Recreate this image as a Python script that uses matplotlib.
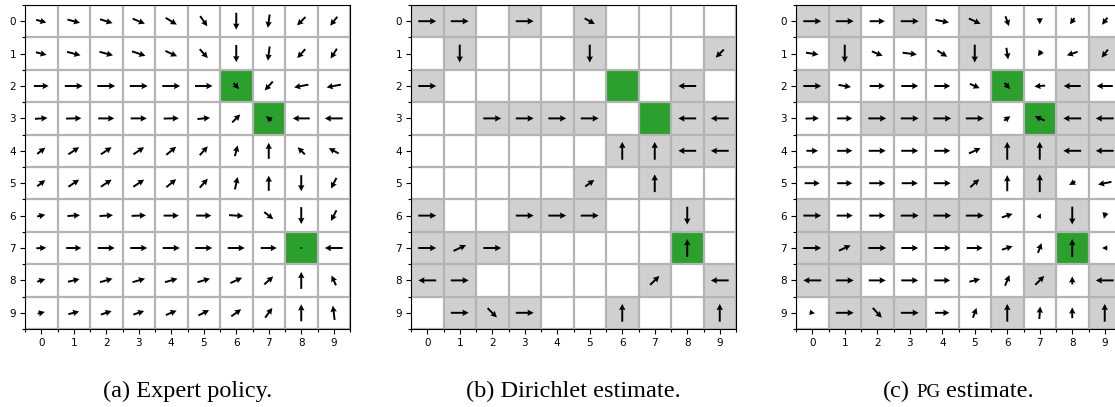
import numpy as np
import matplotlib
matplotlib.use("Agg")
import matplotlib.pyplot as plt
from matplotlib.colors import ListedColormap

# ---------------- data ----------------
labels = list(range(10))
goals = [(2, 6), (3, 7), (7, 8)]

observed = [
    "1101010000",
    "0100010001",
    "1000000010",
    "0011110011",
    "0000001111",
    "0000010100",
    "1001110010",
    "1110000010",
    "1100000101",
    "0111001001",
]

# expert policy: east / north components of mean move
expert_u = [
    [0.57, 0.7, 0.7, 0.68, 0.62, 0.4, 0, -0.1, -0.47, -0.4],
    [0.6, 0.75, 0.75, 0.75, 0.65, 0.45, 0, -0.1, -0.45, -0.35],
    [0.83, 1, 1, 1, 1, 0.98, 0.3, -0.45, -0.8, -0.8],
    [0.7, 0.85, 0.9, 0.9, 0.85, 0.7, 0.45, -0.3, -0.95, -1],
    [0.45, 0.6, 0.6, 0.6, 0.55, 0.45, 0.15, 0, -0.4, -0.55],
    [0.45, 0.6, 0.6, 0.6, 0.55, 0.45, 0.15, 0, 0, -0.3],
    [0.45, 0.7, 0.75, 0.8, 0.85, 0.85, 0.8, 0.5, 0, -0.3],
    [0.55, 0.85, 0.95, 0.95, 0.95, 0.95, 0.95, 0.9, 0.05, -1],
    [0.45, 0.65, 0.7, 0.7, 0.7, 0.7, 0.65, 0.5, 0, -0.25],
    [0.4, 0.6, 0.6, 0.6, 0.6, 0.6, 0.55, 0.4, 0, -0.1],
]
expert_n = [
    [-0.15, -0.18, -0.22, -0.28, -0.38, -0.57, -0.95, -0.75, -0.47, -0.5],
    [-0.15, -0.2, -0.2, -0.25, -0.3, -0.5, -0.97, -0.8, -0.5, -0.55],
    [0, 0, 0, 0, 0, 0, -0.35, -0.5, -0.15, -0.15],
    [0.05, 0.02, 0, 0, 0.02, 0.07, 0.45, 0.25, 0, 0],
    [0.35, 0.4, 0.4, 0.4, 0.45, 0.5, 0.6, 0.9, 0.4, 0.3],
    [0.35, 0.4, 0.4, 0.4, 0.45, 0.5, 0.7, 0.85, -0.9, -0.6],
    [0.1, 0.05, 0.05, 0.03, 0, 0, -0.05, -0.4, -0.95, -0.6],
    [0.03, 0, 0, 0, 0, 0, 0, 0, 0, 0],
    [0.15, 0.15, 0.2, 0.2, 0.2, 0.2, 0.3, 0.45, 0.95, 0.55],
    [0.1, 0.15, 0.2, 0.2, 0.25, 0.3, 0.4, 0.55, 0.95, 0.8],
]

# Dirichlet estimate
dirichlet_u = [
    [1, 1, 0, 1, 0, 0.57, 0, 0, 0, 0],
    [0, 0, 0, 0, 0, 0, 0, 0, 0, -0.45],
    [1, 0, 0, 0, 0, 0, 0, 0, -1, 0],
    [0, 0, 1, 1, 1, 1, 0, 0, -1, -1],
    [0, 0, 0, 0, 0, 0, 0, 0, -1, -1],
    [0, 0, 0, 0, 0, 0.5, 0, 0, 0, 0],
    [1, 0, 0, 1, 1, 1, 0, 0, 0, 0],
    [1, 0.7, 1, 0, 0, 0, 0, 0, 0, 0],
    [-1, 1, 0, 0, 0, 0, 0, 0.52, 0, -1],
    [0, 1, 0.52, 1, 0, 0, 0, 0, 0, 0],
]
dirichlet_n = [
    [0, 0, 0, 0, 0, -0.32, 0, 0, 0, 0],
    [0, -1, 0, 0, 0, -1, 0, 0, 0, -0.45],
    [0, 0, 0, 0, 0, 0, 0, 0, 0, 0],
    [0, 0, 0, 0, 0, 0, 0, 0, 0, 0],
    [0, 0, 0, 0, 0, 0, 1, 1, 0, 0],
    [0, 0, 0, 0, 0, 0.37, 0, 1, 0, 0],
    [0, 0, 0, 0, 0, 0, 0, 0, -1, 0],
    [0, 0.33, 0, 0, 0, 0, 0, 0, 1, 0],
    [0, 0, 0, 0, 0, 0, 0, 0.5, 0, 0],
    [0, 0, -0.52, 0, 0, 0, 1, 0, 0, 1],
]

# PG estimate
pg_u = [
    [1, 1, 0.85, 1, 0.75, 0.65, 0.2, 0, -0.25, -0.3],
    [0.7, 0, 0.6, 0.8, 0.55, 0, 0.1, -0.2, -0.6, -0.35],
    [1, 0.7, 0.85, 0.95, 0.9, 0.55, 0.3, -0.6, -0.95, -0.9],
    [0.75, 0.85, 1, 1, 1, 1, 0.35, -0.55, -1, -1],
    [0.65, 0.85, 0.95, 0.95, 0.9, 0.65, 0, 0, -1, -1],
    [0.85, 0.85, 0.9, 0.9, 0.95, 0.5, 0, 0, -0.35, -0.75],
    [1, 0.9, 0.9, 1, 1, 1, 0.6, 0.12, 0, -0.1],
    [1, 0.65, 1, 0.95, 0.95, 0.9, 0.6, 0.2, 0, -0.3],
    [-1, 1, 0.95, 0.95, 0.9, 0.6, 0.25, 0.5, 0, -1],
    [0.3, 1, 0.5, 1, 0.8, 0.2, 0, 0.05, 0, 0],
]
pg_n = [
    [0, 0, 0, 0, -0.15, -0.3, -0.55, -0.35, -0.35, -0.4],
    [-0.1, -1, -0.25, -0.1, -0.35, -1, -0.65, -0.3, -0.2, -0.45],
    [0, -0.12, 0, 0, 0, -0.25, -0.35, -0.05, 0, 0],
    [0.02, 0, 0, 0, 0, 0, 0.25, 0.25, 0, 0],
    [0, 0, 0, 0, 0, 0.3, 1, 1, 0, 0],
    [0, 0, 0, 0, 0, 0.45, 0.9, 1, -0.2, -0.15],
    [0, 0, 0, 0, 0, 0, 0.2, 0.25, -1, -0.35],
    [0, 0.3, 0, 0, 0, 0, 0.2, 0.55, 1, 0],
    [0, 0, 0, 0, 0, 0.15, 0.6, 0.5, 0.45, 0],
    [-0.05, 0, -0.55, 0, 0, 0.55, 1, 0.7, 0.6, 1],
]

captions = ["(a) Expert policy.", "(b) Dirichlet estimate.", "(c) PG estimate."]

# ---------------- plotting ----------------
W, H = 1115, 407
fig = plt.figure(figsize=(W / 100, H / 100), dpi=100)

GRID = "#b4b4b4"
GRAY = "#d0d0d0"
GREEN = "#2ca02c"
cmap = ListedColormap(["white", GRAY, GREEN])

lefts = [25, 411, 796]
ax_w, ax_h = 325, 324
bottom = H - 329


def draw_panel(ax, U, N, shade):
    state = np.zeros((10, 10))
    if shade:
        state = np.array([[int(c) for c in row] for row in observed], dtype=float)
    for r, c in goals:
        state[r, c] = 2
    ax.imshow(state, cmap=cmap, vmin=0, vmax=2, interpolation="nearest",
              origin="upper", extent=(-0.5, 9.5, 9.5, -0.5))
    U = np.array(U, dtype=float)
    N = np.array(N, dtype=float)
    rr, cc = np.mgrid[0:10, 0:10]
    m = (np.abs(U) + np.abs(N)) > 0
    ax.quiver(cc[m], rr[m], U[m], -N[m], angles="xy", scale_units="xy",
              scale=1 / 0.55, pivot="middle", color="black",
              width=0.006, headwidth=3.3, headlength=3.2, headaxislength=2.9,
              zorder=3)
    ax.set_xlim(-0.5, 9.5)
    ax.set_ylim(9.5, -0.5)
    ax.set_xticks(labels)
    ax.set_yticks(labels)
    ax.set_xticklabels([str(v) for v in labels])
    ax.set_yticklabels([str(v) for v in labels])
    ax.set_xticks(np.arange(-0.5, 10, 1), minor=True)
    ax.set_yticks(np.arange(-0.5, 10, 1), minor=True)
    ax.grid(which="minor", color=GRID, linewidth=1.6)
    ax.grid(which="major", visible=False)
    ax.tick_params(which="major", length=3.5, width=0.8, labelsize=7.5, pad=3)
    ax.tick_params(which="minor", length=2, width=0.8)
    ax.set_aspect("auto")
    for s in ax.spines.values():
        s.set_linewidth(0.8)


panels = [(expert_u, expert_n, False), (dirichlet_u, dirichlet_n, True), (pg_u, pg_n, True)]
axes = []
for left, (U, N, shade) in zip(lefts, panels):
    ax = fig.add_axes([left / W, bottom / H, ax_w / W, ax_h / H])
    draw_panel(ax, U, N, shade)
    axes.append(ax)

# captions
cap_fs = 17.5
base_y = (H - 397) / H
serif = ["Liberation Serif", "DejaVu Serif"]
for i in range(2):
    cx = (lefts[i] + ax_w / 2) / W
    fig.text(cx, base_y, captions[i], family=serif, fontsize=cap_fs,
             ha="center", va="baseline")

# (c) with small-caps "PG"
renderer = fig.canvas.get_renderer()
parts = [("(c)", cap_fs), ("PG", cap_fs * 0.78), ("estimate.", cap_fs)]
texts = [fig.text(0, base_y, s, family=serif, fontsize=f, ha="left", va="baseline")
         for s, f in parts]
widths = [t.get_window_extent(renderer).width for t in texts]
space = 0.25 * cap_fs * 100 / 72
total = sum(widths) + 2 * space
cx = lefts[2] + ax_w / 2
x = cx - total / 2
for t, w in zip(texts, widths):
    t.set_x(x / W)
    x += w + space

fig.savefig("out.png", dpi=100)
